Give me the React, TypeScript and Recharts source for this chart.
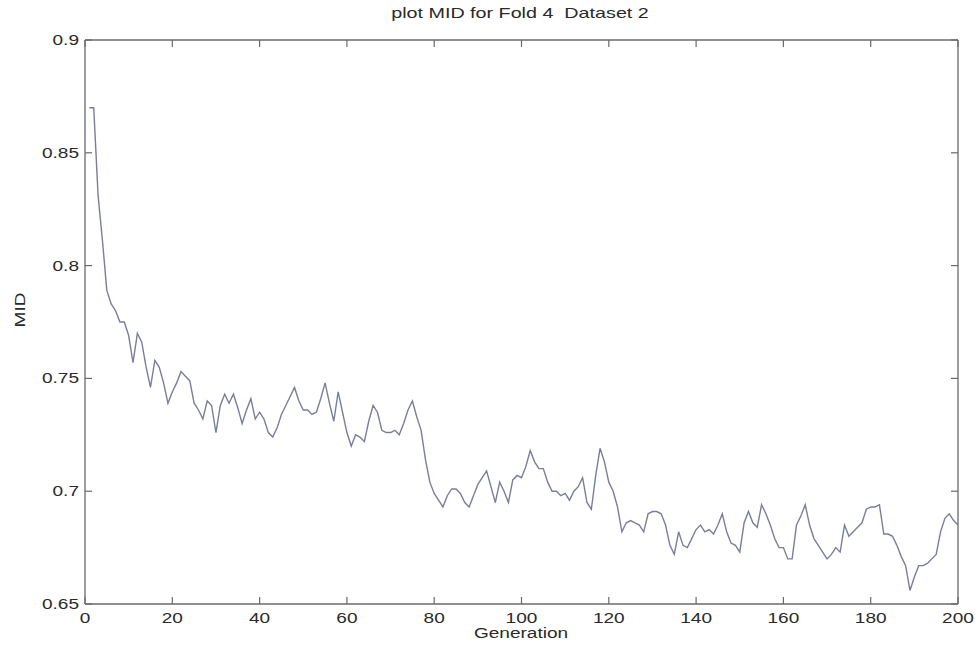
import React from 'react';
import { LineChart, Line, XAxis, YAxis } from 'recharts';

const generations: number[] = Array.from({ length: 200 }, (_, i) => i + 1);

const midValues: number[] = [
  0.870, 0.870, 0.831, 0.811, 0.789, 0.783, 0.780, 0.775, 0.775, 0.769,
  0.757, 0.770, 0.766, 0.755, 0.746, 0.758, 0.755, 0.748, 0.739, 0.744,
  0.748, 0.753, 0.751, 0.749, 0.739, 0.736, 0.732, 0.740, 0.738, 0.726,
  0.738, 0.743, 0.739, 0.743, 0.737, 0.730, 0.736, 0.741, 0.732, 0.735,
  0.732, 0.726, 0.724, 0.728, 0.734, 0.738, 0.742, 0.746, 0.740, 0.736,
  0.736, 0.734, 0.735, 0.741, 0.748, 0.739, 0.731, 0.744, 0.735, 0.726,
  0.720, 0.725, 0.724, 0.722, 0.731, 0.738, 0.735, 0.727, 0.726, 0.726,
  0.727, 0.725, 0.730, 0.736, 0.740, 0.733, 0.727, 0.714, 0.704, 0.699,
  0.696, 0.693, 0.698, 0.701, 0.701, 0.699, 0.695, 0.693, 0.698, 0.703,
  0.706, 0.709, 0.702, 0.695, 0.704, 0.700, 0.695, 0.705, 0.707, 0.706,
  0.711, 0.718, 0.713, 0.710, 0.710, 0.704, 0.700, 0.700, 0.698, 0.699,
  0.696, 0.700, 0.702, 0.706, 0.695, 0.692, 0.707, 0.719, 0.713, 0.704,
  0.700, 0.693, 0.682, 0.686, 0.687, 0.686, 0.685, 0.682, 0.690, 0.691,
  0.691, 0.690, 0.685, 0.676, 0.672, 0.682, 0.676, 0.675, 0.679, 0.683,
  0.685, 0.682, 0.683, 0.681, 0.685, 0.690, 0.682, 0.677, 0.676, 0.673,
  0.686, 0.691, 0.686, 0.684, 0.694, 0.690, 0.685, 0.679, 0.675, 0.675,
  0.670, 0.670, 0.685, 0.689, 0.694, 0.685, 0.679, 0.676, 0.673, 0.670,
  0.672, 0.675, 0.673, 0.685, 0.680, 0.682, 0.684, 0.686, 0.692, 0.693,
  0.693, 0.694, 0.681, 0.681, 0.680, 0.676, 0.671, 0.667, 0.656, 0.662,
  0.667, 0.667, 0.668, 0.670, 0.672, 0.682, 0.688, 0.690, 0.687, 0.685,
];

const xTicks = [0, 20, 40, 60, 80, 100, 120, 140, 160, 180, 200];
const yTicks = [0.65, 0.7, 0.75, 0.8, 0.85, 0.9];

const data = generations.map((g, i) => ({ gen: g, mid: midValues[i] }));

const FONT = '"Liberation Sans", Arial, sans-serif';
const TEXT = '#2a2a2a';
const AXIS = '#6a6a6a';
const STRETCH = 1.36;
const TICK_LEN = 7;

const fmtY = (v: number) => String(Number(v.toFixed(2)));

function BottomTick({ x, y, payload }: any) {
  return (
    <g>
      <line x1={x} x2={x} y1={y} y2={y - TICK_LEN} stroke={AXIS} strokeWidth={1.2} />
      <text
        transform={`translate(${x},${y + 19}) scale(${STRETCH},1)`}
        textAnchor="middle"
        fontSize={14}
        fontFamily={FONT}
        fill={TEXT}
      >
        {payload.value}
      </text>
    </g>
  );
}

function TopTick({ x, y }: any) {
  return <line x1={x} x2={x} y1={y} y2={y + TICK_LEN} stroke={AXIS} strokeWidth={1.2} />;
}

function LeftTick({ x, y, payload }: any) {
  return (
    <g>
      <line x1={x} x2={x + TICK_LEN} y1={y} y2={y} stroke={AXIS} strokeWidth={1.2} />
      <text
        transform={`translate(${x - 6},${y + 5}) scale(${STRETCH},1)`}
        textAnchor="end"
        fontSize={14}
        fontFamily={FONT}
        fill={TEXT}
      >
        {fmtY(payload.value)}
      </text>
    </g>
  );
}

function RightTick({ x, y }: any) {
  return <line x1={x} x2={x - TICK_LEN} y1={y} y2={y} stroke={AXIS} strokeWidth={1.2} />;
}

const overlayText: React.CSSProperties = {
  position: 'absolute',
  fontFamily: FONT,
  color: TEXT,
  whiteSpace: 'nowrap',
  lineHeight: 1,
};

export default function App() {
  return (
    <div style={{ position: 'absolute', left: 0, top: 0, width: 977, height: 648 }}>
      <LineChart
        width={977}
        height={648}
        data={data}
        margin={{ top: 39, right: 18, bottom: 0, left: 0 }}
        style={{ overflow: 'visible' }}
      >
        <XAxis
          xAxisId="bottom"
          dataKey="gen"
          type="number"
          domain={[0, 200]}
          ticks={xTicks}
          height={44}
          tickSize={0}
          tickMargin={0}
          tickLine={false}
          axisLine={{ stroke: AXIS, strokeWidth: 1.3 }}
          tick={<BottomTick />}
          interval={0}
          allowDataOverflow
        />
        <XAxis
          xAxisId="top"
          orientation="top"
          dataKey="gen"
          type="number"
          domain={[0, 200]}
          ticks={xTicks}
          height={1}
          tickSize={0}
          tickMargin={0}
          tickLine={false}
          axisLine={{ stroke: AXIS, strokeWidth: 1.3 }}
          tick={<TopTick />}
          interval={0}
          allowDataOverflow
        />
        <YAxis
          yAxisId="left"
          type="number"
          domain={[0.65, 0.9]}
          ticks={yTicks}
          width={85}
          tickSize={0}
          tickMargin={0}
          tickLine={false}
          axisLine={{ stroke: AXIS, strokeWidth: 1.3 }}
          tick={<LeftTick />}
          interval={0}
          allowDataOverflow
        />
        <YAxis
          yAxisId="right"
          orientation="right"
          type="number"
          domain={[0.65, 0.9]}
          ticks={yTicks}
          width={1}
          tickSize={0}
          tickMargin={0}
          tickLine={false}
          axisLine={{ stroke: AXIS, strokeWidth: 1.3 }}
          tick={<RightTick />}
          interval={0}
          allowDataOverflow
        />
        <Line
          xAxisId="bottom"
          yAxisId="left"
          type="linear"
          dataKey="mid"
          stroke="#7a7d9b"
          strokeWidth={1.4}
          dot={false}
          isAnimationActive={false}
        />
      </LineChart>
      <div
        style={{
          ...overlayText,
          left: 520,
          top: 6,
          fontSize: 14.5,
          transform: `translateX(-50%) scaleX(${STRETCH})`,
        }}
      >
        plot MID for Fold 4&nbsp; Dataset 2
      </div>
      <div
        style={{
          ...overlayText,
          left: 521,
          top: 626,
          fontSize: 14,
          transform: `translateX(-50%) scaleX(${STRETCH})`,
        }}
      >
        Generation
      </div>
      <div
        style={{
          ...overlayText,
          left: 20,
          top: 310,
          fontSize: 14,
          transform: `translate(-50%, -50%) rotate(-90deg) scaleX(${STRETCH})`,
        }}
      >
        MID
      </div>
    </div>
  );
}
